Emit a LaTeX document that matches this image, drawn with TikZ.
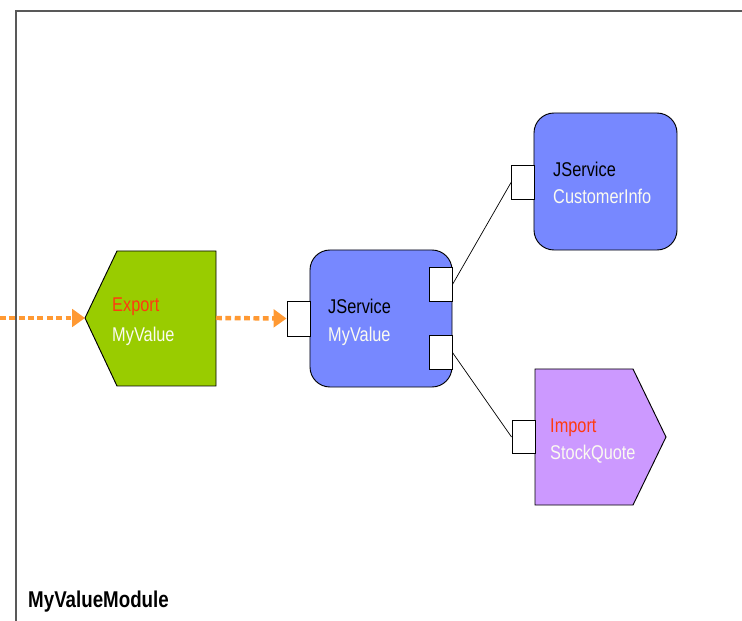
\documentclass[tikz,border=0pt]{standalone}
\usepackage{fontspec}
\setmainfont{Liberation Sans}[FakeStretch=0.82]
\usetikzlibrary{arrows.meta,positioning}
\definecolor{expgreen}{HTML}{99CC00}
\definecolor{svcblue}{HTML}{7788FF}
\definecolor{imppurple}{HTML}{CC99FF}
\definecolor{wireorange}{HTML}{FF9933}
\definecolor{kindred}{HTML}{FF3A10}
\definecolor{namewhite}{HTML}{FBFBF0}

\tikzset{
  svc/.style={draw=black, fill=svcblue, rounded corners=0.6cm, minimum width=4.26cm,
              minimum height=4.11cm, inner sep=0, line width=0.8pt},
  port/.style={draw=black, fill=white, minimum width=0.69cm, minimum height=1.0cm,
               inner sep=0, line width=0.8pt},
  kind/.style={anchor=base west, inner sep=0, font=\fontsize{17}{19}\selectfont},
  wire/.style={draw=wireorange, line width=3.8pt, dash pattern=on 5pt off 3pt,
               -{Triangle[length=11pt,width=15pt]}}
}

\begin{document}
\begin{tikzpicture}[x=0.03cm,y=-0.03cm]
    \useasboundingbox (0,0) rectangle (742,621);
    \draw[line width=1.7pt, color=black!65] (16,625) -- (16,11) -- (745,11);
    \node[kind, font=\fontsize{19.5}{21}\selectfont\bfseries] (modname) at (28,607) {MyValueModule};

    \draw[fill=expgreen, line width=0.8pt] (117,251) -- (216,251) -- (216,386) -- (117,386) -- (85,318) -- cycle;
    \coordinate (exptip) at (85,318);
    \coordinate (expback) at (216,318);
    \coordinate (outside) at (0,318);
    \node[kind, text=kindred] (expkind) at (112,312) {Export};
    \node[kind, text=namewhite] (expname) at (112,342) {MyValue};

    \node[svc] (myval) at (381,318.5) {};
    \node[port, minimum height=1.05cm] (inport) at (298.5,318.5) {};
    \node[port] (outa) at (440.5,284.5) {};
    \node[port] (outb) at (440.5,352.5) {};
    \node[kind] (valkind) at (328,314) {JService};
    \node[kind, text=namewhite] (valname) at (328,342) {MyValue};

    \node[svc, minimum width=4.29cm] (cust) at (605.5,181.5) {};
    \node[port] (custport) at (523,182.5) {};
    \node[kind] (custkind) at (553,177) {JService};
    \node[kind, text=namewhite] (custname) at (553,204) {CustomerInfo};

    \draw[fill=imppurple, line width=0.8pt] (535,369) -- (633,369) -- (666,437) -- (633,505) -- (535,505) -- cycle;
    \node[port] (impport) at (523.5,437) {};
    \node[kind, text=kindred] (impkind) at (550,433) {Import};
    \node[kind, text=namewhite] (impname) at (550,460) {StockQuote};

    \draw[wire] (outside) -- (exptip);
    \draw[wire] (expback) -- (inport.west);
    \draw[line width=0.6pt] (outa.east) -- (custport.west);
    \draw[line width=0.6pt] (outb.east) -- (impport.west);
\end{tikzpicture}
\end{document}
